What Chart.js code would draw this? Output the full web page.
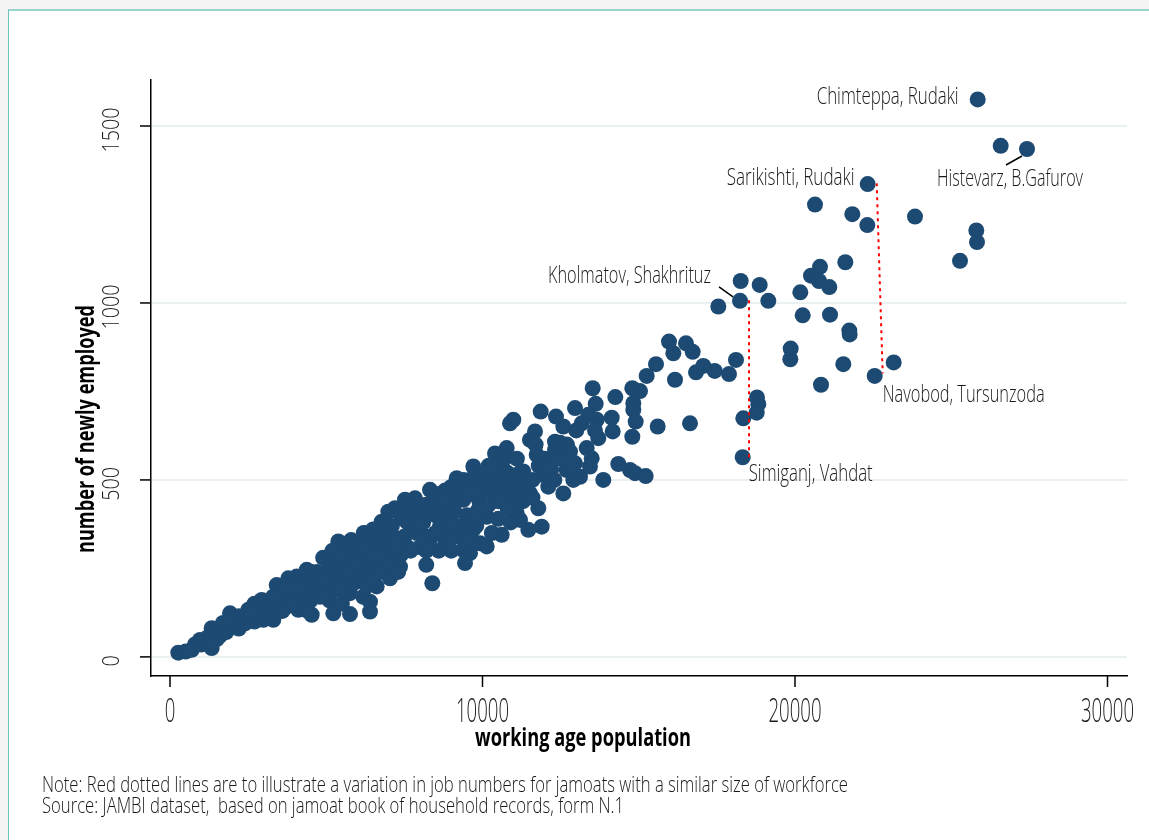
<!DOCTYPE html>
<html><head><meta charset="utf-8">
<script src="https://cdn.jsdelivr.net/npm/chart.js@4.4.1/dist/chart.umd.min.js"></script>
<style>
html,body{margin:0;padding:0;background:#f4f4f4;width:1149px;height:840px;overflow:hidden}
#panel{position:absolute;left:8px;top:9px;width:1200px;height:900px;background:#fff;border-top:2px solid #9ad4d0;border-left:1px solid #6cc3bd}
#wrap{position:absolute;left:0;top:0;width:1149px;height:840px}
</style></head><body><div id="panel"></div><div id="wrap"><canvas id="c" width="1149" height="840"></canvas></div>
<script>
// working age population (x) and number of newly employed (y)
const workingAge = [
25846,26582,27424,22326,20640,21834,22314,23840,25802,25824,25280,21610,20800,20512,20768,21098,20170,20246,21120,21738,21750,19862,19850,21546,23158,22550,20832,18262,18870,19146,18240,17546,18112,17888,17430,17066,18784,18826,18774,18346,18326,
15968,16512,16106,16726,15552,16832,15254,16160,14794,15040,13526,14250,14826,14826,14902,13622,12960,13386,14134,13174,13654,12586,15606,16640,14166,13706,14794,13334,13494,12960,12480,14346,14720,14880,15222,13866,13120,12694,
11862,12352,10880,10986,11680,11520,12320,10400,10774,11734,12320,9706,10506,11306,11946,13440,9174,10134,10294,11520,12106,12586,12906,8320,8586,8000,9386,9014,9866,10134,11040,11094,11786,11200,11466,11894,10614,8640,9386,9066,9920,10134,8214,
9760,7520,7840,8214,6986,6774,7520,7786,6240,5386,5814,6506,7146,9386,9600,9440,5120,5546,5974,4480,4054,4800,5440,6294,6720,7360,7040,6614,6186,5760,5226,4800,4266,3946,6400,6400,5760,5226,4534,8394,4106,
266,694,960,1334,1334,1920,1696,2400,2506,2934,2986,3306,3414,3786,4374,3734,
7000,7300,7600,7900,8100,8300,8500,8700,8900,9100,9300,9500,9700,9900,10200,10400,10600,10800,11000,11200,11400,6600,6800,6200,6000,6400,5800,5600,5300,5000,4700,4400,4200,4000,3800,3600,3400,3200,3000,2800,2700,2600,2300,2200,2100,2000,1800,1600,1500,1450,1200,1100,800,500,
5100,5500,5900,6100,6800,7200,7400,7700,8000,8200,8600,8800,9000,9200,9600,9800,10300,10500,10900,11300,11600,12100,12300,7000,7600,8400,8800,9000,9500,10000,10200,10800,6000,5700,4900,4600,3900,3500,2200,1700,3100,2900,5000,5300,5600,6300,6500,7100,7300,8200,
4300,4500,4700,4900,5100,5200,5400,5600,5800,6000,6200,6300,6500,6700,6900,7100,7200,7400,7600,7800,8000,8200,8400,8600,8800,9000,9200,9400,9600,9800,10000,10200,10400,10600,10800,11000,11200,11400,11600,11800,12000,12200,12500,
6700,7000,7500,8100,8500,8900,9300,9700,10100,10500,3300,3600,3900,4100,4500,2500,2700,1900,1000,1300,1700,2600,3000,3700,4400,5000,5400,5800,6600,7200,7900,8700,9100,9900,10700,11100,11700,12700,13000,12800,13600
];
const employed = [
1575,1444,1435,1336,1278,1251,1220,1244,1205,1172,1119,1115,1102,1077,1062,1045,1030,965,967,922,911,871,841,827,832,794,769,1062,1051,1006,1006,990,839,799,808,822,733,714,690,674,564,
891,886,858,862,827,804,794,783,759,751,759,734,717,698,665,715,703,684,676,660,670,651,651,660,637,618,622,590,561,547,605,545,528,519,511,500,509,528,
693,679,660,670,637,613,608,575,590,571,585,538,542,524,514,538,505,509,472,462,481,462,500,472,453,425,444,425,415,396,425,406,420,387,359,368,345,368,373,349,321,312,340,
514,444,448,420,410,382,387,368,349,326,316,321,340,302,293,265,283,260,279,241,227,218,227,246,265,255,222,199,170,180,189,170,156,180,156,128,121,123,119,208,133,
12,20,48,25,81,123,96,95,133,161,105,105,203,222,246,142,
300,330,310,350,380,330,400,420,390,410,470,400,360,440,430,480,500,460,480,520,500,300,330,280,300,260,250,290,250,210,190,180,200,170,160,190,150,130,140,120,150,110,100,80,110,90,70,60,50,75,55,40,35,15,
160,150,210,230,240,280,290,300,310,260,300,330,300,340,330,370,350,390,380,440,500,540,500,360,420,440,470,480,480,470,540,520,270,300,280,230,200,170,115,90,110,140,240,210,200,200,220,250,240,300,
210,200,240,220,250,300,280,320,330,320,350,310,360,350,380,370,420,400,380,410,400,430,410,460,450,460,480,500,460,500,520,500,530,470,420,500,460,470,450,540,560,530,560,
250,270,340,340,350,380,360,400,420,440,170,130,150,190,160,110,100,100,35,45,70,130,120,190,130,180,190,230,330,330,380,380,370,470,560,560,600,600,640,580,640
];
const xTicks = [0, 10000, 20000, 30000];
const yTicks = [0, 500, 1000, 1500];
// labelled jamoats
const labelNames = ["Chimteppa, Rudaki","Histevarz, B.Gafurov","Sarikishti, Rudaki","Kholmatov, Shakhrituz","Simiganj, Vahdat","Navobod, Tursunzoda"];
const labelX = [25846, 27424, 22326, 18240, 18326, 22550];
const labelY = [1575, 1435, 1336, 1006, 564, 794];
// red dotted comparison lines
const redLineAX = [18528, 18528];
const redLineAY = [1008, 553];
const redLineBX = [22614, 22806];
const redLineBY = [1338, 801];
const xTitle = "working age population";
const yTitle = "number of newly employed";
const notes = ["Note: Red dotted lines are to illustrate a variation in job numbers for jamoats with a similar size of workforce",
               "Source: JAMBI dataset,  based on jamoat book of household records, form N.1"];

const FONT = "'Open Sans', 'Liberation Sans Narrow', sans-serif";
function drawText(ctx, s, x, y, o) {
  ctx.save();
  ctx.translate(x, y);
  if (o.rot) ctx.rotate(-Math.PI / 2);
  ctx.font = (o.weight || 300) + ' ' + o.size + 'px ' + FONT;
  const w = ctx.measureText(s).width;
  const sx = o.width ? o.width / w : (o.sx || 1);
  ctx.scale(sx, o.sy || 1);
  ctx.textAlign = o.align || 'center';
  ctx.textBaseline = 'middle';
  ctx.fillStyle = o.color || '#1a1a1a';
  ctx.fillText(s, 0, 0);
  ctx.restore();
}
// label placement (pixel offsets from the marker) - style only
const labelStyle = [
  {dx: -19, dy: -2, align: 'right', w: 142},
  {dx: -17, dy: 30, align: 'center', w: 146, lead: [-21, 16, -5, 7]},
  {dx: -13, dy: -6, align: 'right', w: 128},
  {dx: -29, dy: -25, align: 'right', w: 163, lead: [-21, -14, -7, -4]},
  {dx: 6, dy: 17, align: 'left', w: 124},
  {dx: 8, dy: 19, align: 'left', w: 162}
];

const decor = {
  id: 'decor',
  afterDatasetsDraw(chart) {
    const ctx = chart.ctx, xs = chart.scales.x, ys = chart.scales.y, a = chart.chartArea;
    ctx.save();
    ctx.strokeStyle = '#000'; ctx.lineWidth = 1.5;
    // tick marks
    yTicks.forEach(v => { const p = ys.getPixelForValue(v); ctx.beginPath(); ctx.moveTo(a.left - 11, p); ctx.lineTo(a.left, p); ctx.stroke(); });
    xTicks.forEach(v => { const p = xs.getPixelForValue(v); ctx.beginPath(); ctx.moveTo(p, a.bottom); ctx.lineTo(p, a.bottom + 11); ctx.stroke(); });
    // tick labels
    yTicks.forEach(v => drawText(ctx, String(v), a.left - 39, ys.getPixelForValue(v) + 4, {size: 23, sx: 0.86, rot: true}));
    xTicks.forEach(v => drawText(ctx, String(v), xs.getPixelForValue(v), a.bottom + 36, {size: 30, sx: 0.62, sy: 1.12}));
    // titles
    drawText(ctx, xTitle, 583, 739, {size: 22, weight: 700, width: 216, sy: 1.15, color: '#000'});
    drawText(ctx, yTitle, 87, 429, {size: 25, weight: 700, width: 248, rot: true, color: '#000'});
    notes.forEach((n, i) => drawText(ctx, n, 42, 786 + i * 21, {size: 19, align: 'left', sy: 1.12, width: i === 0 ? 806 : 582}));
    // labels
    labelNames.forEach((n, i) => {
      const st = labelStyle[i];
      const px = xs.getPixelForValue(labelX[i]), py = ys.getPixelForValue(labelY[i]);
      drawText(ctx, n, px + st.dx, py + st.dy, {size: 21, align: st.align, width: st.w, sy: 1.15});
      if (st.lead) {
        ctx.beginPath(); ctx.strokeStyle = '#000'; ctx.lineWidth = 1.5;
        ctx.moveTo(px + st.lead[0], py + st.lead[1]); ctx.lineTo(px + st.lead[2], py + st.lead[3]); ctx.stroke();
      }
    });
    ctx.restore();
  }
};

const pts = workingAge.map((x, i) => ({x: x, y: employed[i]}));
new Chart(document.getElementById('c'), {
  type: 'scatter',
  data: {datasets: [
    {data: pts, backgroundColor: '#1d4a72', borderWidth: 0, pointRadius: 8, pointHoverRadius: 8, order: 2},
    {type: 'line', data: redLineAX.map((x, i) => ({x: x, y: redLineAY[i]})), borderColor: '#ff0000', borderWidth: 2, borderDash: [3, 4], pointRadius: 0, fill: false, order: 1},
    {type: 'line', data: redLineBX.map((x, i) => ({x: x, y: redLineBY[i]})), borderColor: '#ff0000', borderWidth: 2, borderDash: [3, 4], pointRadius: 0, fill: false, order: 1}
  ]},
  options: {
    responsive: false, animation: false, events: [],
    layout: {padding: {left: 151, top: 80, right: 22, bottom: 164}},
    plugins: {legend: {display: false}, tooltip: {enabled: false}},
    scales: {
      x: {type: 'linear', min: -608, max: 30624,
          afterBuildTicks: s => { s.ticks = xTicks.map(v => ({value: v})); },
          ticks: {display: false}, grid: {display: false, drawTicks: false},
          border: {display: true, color: '#000', width: 1.5}},
      y: {type: 'linear', min: -54, max: 1630,
          afterBuildTicks: s => { s.ticks = yTicks.map(v => ({value: v})); },
          ticks: {display: false}, grid: {color: '#e9f0f2', lineWidth: 2, drawTicks: false},
          border: {display: true, color: '#000', width: 1.5}}
    }
  },
  plugins: [decor]
});
</script></body></html>
